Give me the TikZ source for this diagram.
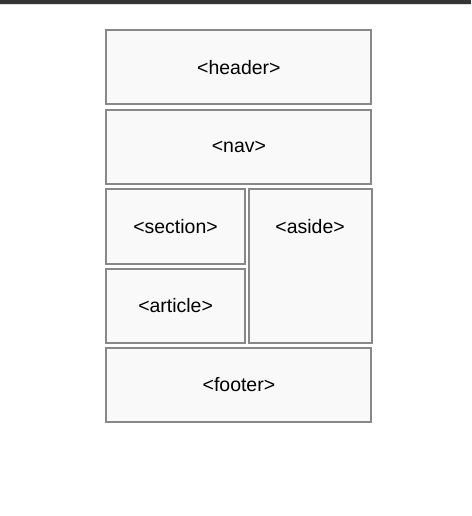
\documentclass[tikz,border=0pt]{standalone}
\usepackage{fontspec}
\setmainfont{Liberation Sans}
\definecolor{boxline}{HTML}{888888}
\definecolor{boxfill}{HTML}{F9F9F9}
\definecolor{topbar}{HTML}{353535}
\definecolor{topline}{HTML}{DDDDDD}
\begin{document}
\begin{tikzpicture}[x=0.75pt,y=-0.75pt,
    box/.style={draw=boxline,fill=boxfill,line width=1.5pt,
      minimum height=55.5pt,inner sep=0pt,font=\fontsize{14.6}{17}\selectfont},
    wide/.style={box,minimum width=198.75pt},
    narrow/.style={box,minimum width=103.9pt}]
      % Page area
      \useasboundingbox (0,0) rectangle (471,516);
      \fill[topbar] (0,0) rectangle (471,4);
      \fill[topline] (0,4) rectangle (471,5.2);
      % Full width rows
      \node[wide] (header) at (238.9,67.2) {<header>};
      \node[wide] (nav) at (238.9,147) {<nav>};
      % Middle row
      \node[narrow] (section) at (175.5,226.5) {<section>};
      \node[narrow] (article) at (175.6,306) {<article>};
      \node[box,minimum width=92.25pt,minimum height=115.5pt] (aside) at (310.1,266.3) {};
      \node[font=\fontsize{14.6}{17}\selectfont] (asidetext) at (aside.north |- section) {<aside>};
      % Bottom row
      \node[wide] (footer) at (238.9,384.9) {<footer>};
\end{tikzpicture}
\end{document}
